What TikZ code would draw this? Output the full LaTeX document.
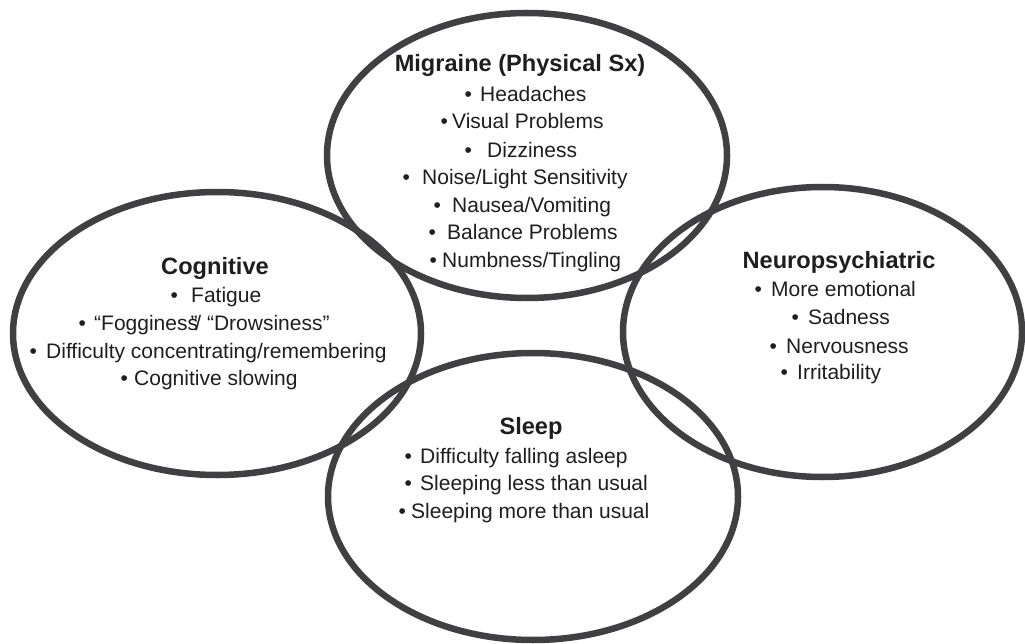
\documentclass[tikz,border=0pt]{standalone}
\usepackage{fontspec}
\setmainfont[Ligatures=NoCommon]{Liberation Sans}
\definecolor{ringgray}{RGB}{64,64,66}
\definecolor{txt}{RGB}{30,30,30}
\newcommand\bitem[5]{\node[itemtxt] (#1) at (#2,#3) {\makebox[0pt]{\textbullet}\hspace{#4pt}#5};}
\begin{document}
\begin{tikzpicture}[x=1pt,y=-1pt,
  ring/.style={draw=ringgray,line width=6.5pt},
  itemtxt/.style={anchor=base west,inner sep=0pt,text=txt,font=\fontsize{21}{24}\selectfont},
  titletxt/.style={anchor=base,inner sep=0pt,text=txt,font=\fontsize{23.6}{28}\selectfont\bfseries}]
\useasboundingbox (0,0) rectangle (1025,644);
% ellipses
\draw[ring] (527,155.5) ellipse [x radius=200pt, y radius=142.5pt];
\draw[ring] (217,333.5) ellipse [x radius=204pt, y radius=141.5pt];
\draw[ring] (822.5,332) ellipse [x radius=199.5pt, y radius=145pt];
\draw[ring] (533,496.5) ellipse [x radius=205pt, y radius=143.5pt];
% Migraine
\node[titletxt] (mig) at (520,72) {Migraine (Physical Sx)};
\bitem{m1}{468}{102}{12}{Headaches}
\bitem{m2}{444}{129}{8}{Visual Problems}
\bitem{m3}{468}{158}{19}{Dizziness}
\bitem{m4}{406}{185}{16}{Noise/Light Sensitivity}
\bitem{m5}{437}{213}{15}{Nausea/Vomiting}
\bitem{m6}{432}{240}{15}{Balance Problems}
\bitem{m7}{433}{268}{9}{Numbness/Tingling}
% Cognitive
\node[titletxt] (cog) at (215,275) {Cognitive};
\bitem{c1}{174}{302}{17}{Fatigue}
\bitem{c2}{82}{330}{12}{“Fogginess\kern-0.36em”\kern-0.1em/ “Drowsiness”}
\bitem{c3}{33}{358}{13}{Difficulty concentrating/remembering}
\bitem{c4}{124}{385}{10}{Cognitive slowing}
% Neuropsychiatric
\node[titletxt] (neu) at (839,269) {Neuropsychiatric};
\bitem{n1}{758}{297}{13}{More emotional}
\bitem{n2}{795}{324}{13}{Sadness}
\bitem{n3}{773}{353}{13}{Nervousness}
\bitem{n4}{784}{379}{13}{Irritability}
% Sleep
\node[titletxt] (slp) at (531,434) {Sleep};
\bitem{s1}{408}{463}{12}{Difficulty falling asleep}
\bitem{s2}{408}{490}{12}{Sleeping less than usual}
\bitem{s3}{402}{518}{9}{Sleeping more than usual}
\end{tikzpicture}
\end{document}
